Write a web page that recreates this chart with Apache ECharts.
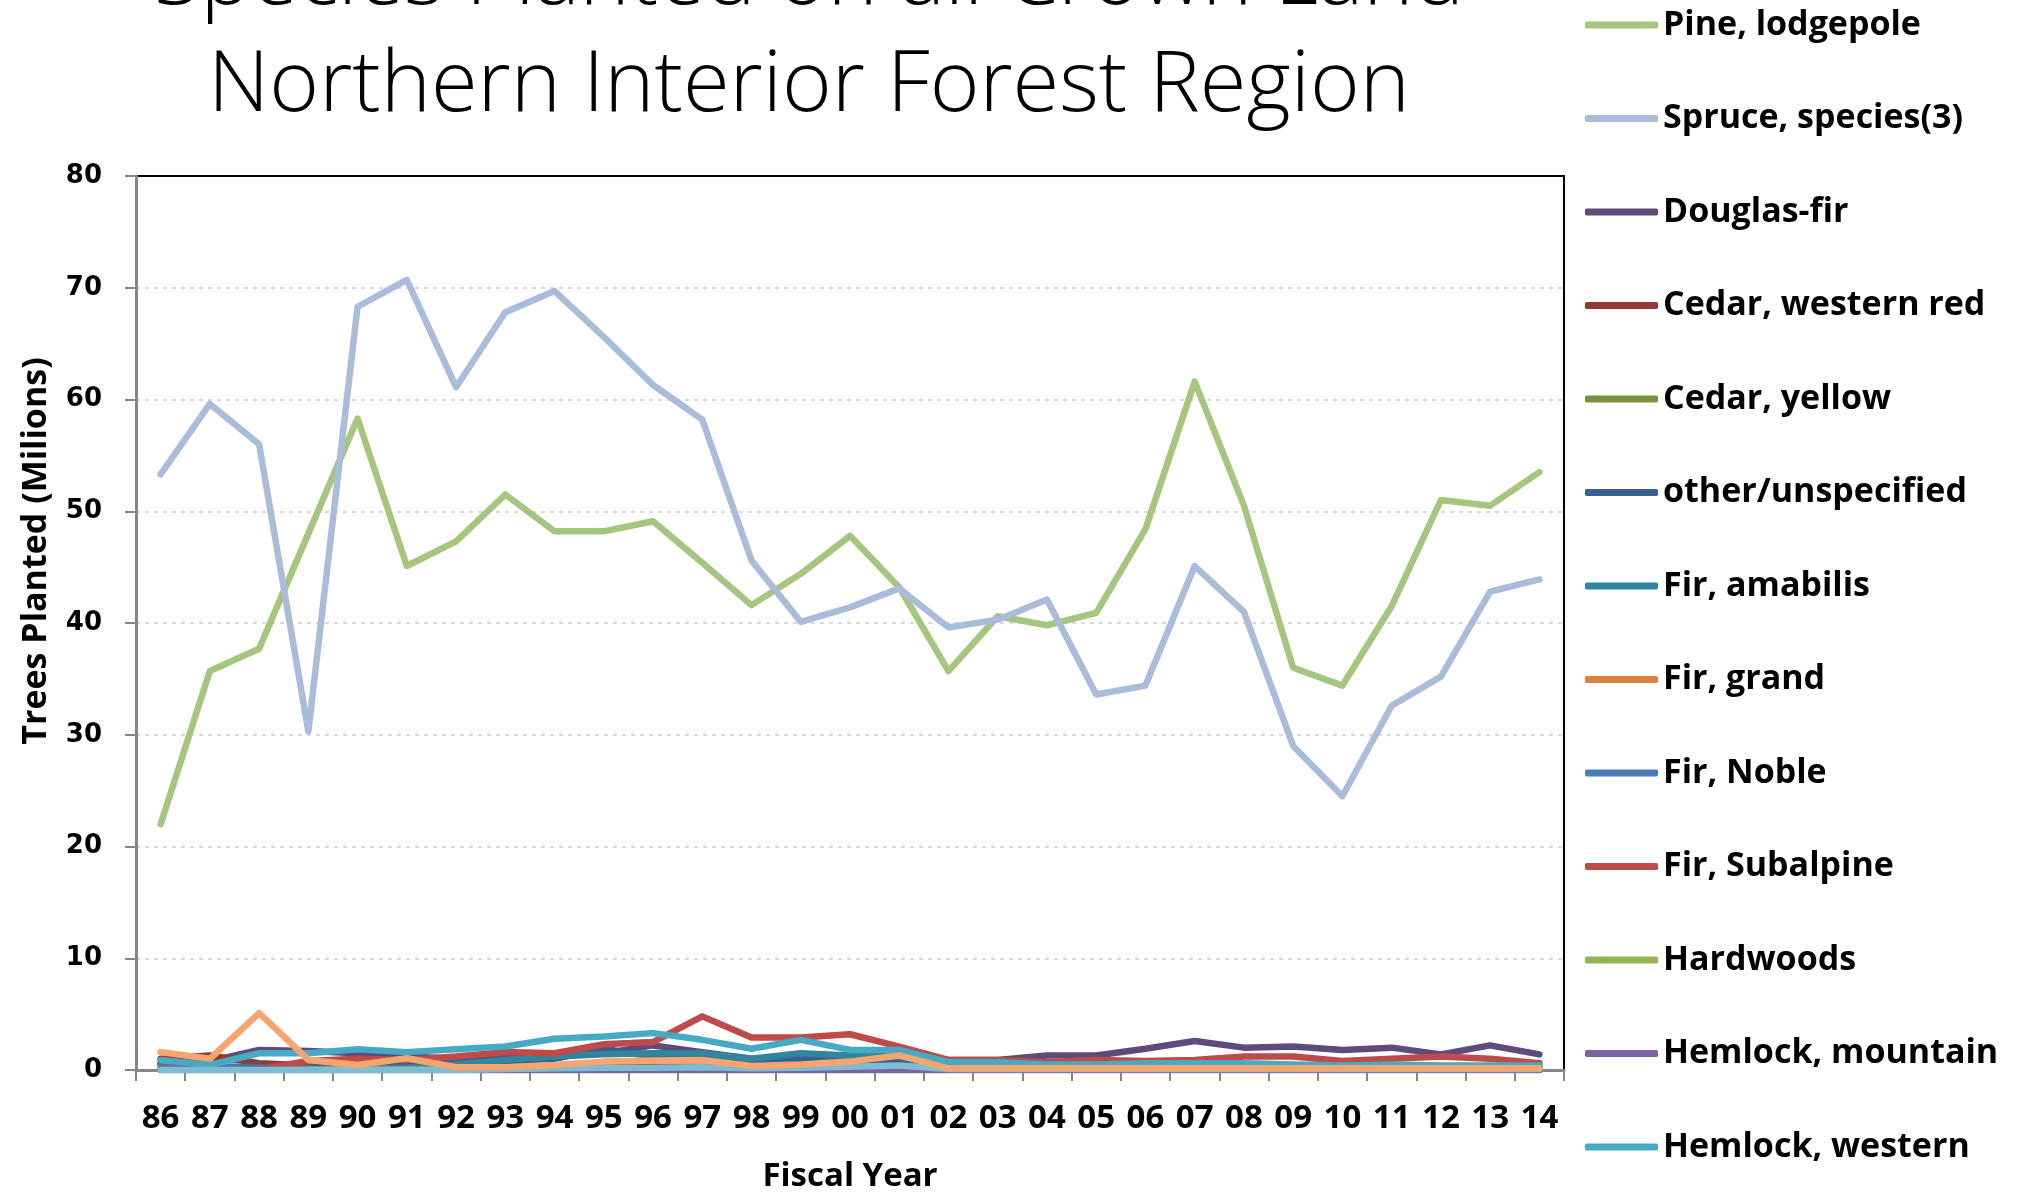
<!DOCTYPE html>
<html>
<head>
<meta charset="utf-8">
<script src="https://cdn.jsdelivr.net/npm/echarts@6/dist/echarts.min.js"></script>
<style>
html,body{margin:0;padding:0;background:#fff;overflow:hidden;}
#chart{width:2019px;height:1192px;}
</style>
</head>
<body>
<div id="chart"></div>
<script>
const titleLines = ['Species Planted on all Crown Land', 'Northern Interior Forest Region'];
const years = ['86','87','88','89','90','91','92','93','94','95','96','97','98','99','00','01','02','03','04','05','06','07','08','09','10','11','12','13','14'];
const yTicks = [0,10,20,30,40,50,60,70,80];

const pineLodgepole = [22.0,35.7,37.7,48.0,58.3,45.1,47.3,51.5,48.2,48.2,49.1,45.4,41.6,44.4,47.8,43.2,35.7,40.6,39.8,40.9,48.4,61.6,50.5,36.0,34.4,41.5,51.0,50.5,53.5];
const spruce = [53.3,59.6,56.0,30.3,68.3,70.7,61.1,67.8,69.7,65.6,61.3,58.2,45.6,40.1,41.4,43.1,39.6,40.3,42.1,33.6,34.4,45.1,41.0,29.0,24.5,32.6,35.2,42.8,43.9];
const douglasFir = [0.6,0.8,1.8,1.7,1.5,1.2,1.0,1.1,1.2,1.5,2.2,1.6,1.0,1.2,1.0,0.9,0.9,0.9,1.3,1.3,1.9,2.6,2.0,2.1,1.8,2.0,1.4,2.2,1.4];
const cedarWesternRed = [1.0,1.3,0.6,0.4,0.3,0.3,0.3,0.3,0.3,0.3,0.3,0.3,0.2,0.2,0.2,0.2,0.1,0.1,0.1,0.1,0.1,0.1,0.1,0.1,0.1,0.1,0.1,0.1,0.1];
const cedarYellow = [0,0,0,0,0,0,0,0,0,0,0,0,0,0,0,0,0,0,0,0,0,0,0,0,0,0,0,0,0];
const otherUnspecified = [0.5,0.3,0.3,0.3,0.4,0.5,0.6,0.8,1.0,1.9,1.2,1.1,0.8,1.0,0.9,0.6,0.3,0.2,0.2,0.2,0.2,0.2,0.2,0.2,0.2,0.2,0.2,0.2,0.2];
const firAmabilis = [0.6,0.3,0.2,0.1,0.1,0.2,0.5,0.9,1.2,1.4,1.5,1.5,1.0,1.5,1.3,1.2,0.5,0.4,0.3,0.3,0.3,0.3,0.3,0.3,0.3,0.3,0.3,0.3,0.3];
const firGrand = [0,0,0,0,0,0,0,0,0,0,0,0,0,0,0,0,0,0,0,0,0,0,0,0,0,0,0,0,0];
const firNoble = [0,0,0,0,0,0,0,0,0,0,0,0,0,0,0,0,0,0,0,0,0,0,0,0,0,0,0,0,0];
const firSubalpine = [0,0,0.1,0.8,1.0,0.9,1.2,1.6,1.5,2.3,2.5,4.8,2.9,2.9,3.2,2.1,0.9,0.9,0.7,0.9,0.8,0.9,1.2,1.2,0.8,1.0,1.2,1.0,0.6];
const hardwoods = [0.05,0.05,0.05,0.05,0.05,0.05,0.05,0.05,0.05,0.05,0.05,0.05,0.05,0.05,0.05,0.05,0.05,0.05,0.05,0.05,0.05,0.05,0.05,0.05,0.05,0.05,0.05,0.05,0.05];
const hemlockMountain = [0.2,0.1,0.1,0,0,0,0,0,0,0,0,0,0,0,0,0,0,0,0,0,0,0,0,0,0,0,0,0,0];
const hemlockWestern = [0.9,0.45,1.5,1.5,1.85,1.6,1.85,2.1,2.8,3.0,3.3,2.7,1.9,2.7,1.8,1.8,0.7,0.7,0.5,0.5,0.6,0.6,0.6,0.5,0.4,0.5,0.4,0.4,0.4];
const unlabeledA = [0,0,0,0,0,0,0,0.1,0.15,0.2,0.2,0.25,0.15,0.2,0.3,0.4,0.1,0.1,0.1,0.1,0.1,0.1,0.1,0.1,0.1,0.1,0.1,0.1,0.1];
const unlabeledB = [1.6,1.0,5.1,0.9,0.45,1.05,0.25,0.25,0.45,0.75,0.85,0.9,0.35,0.5,0.75,1.3,0.15,0.15,0.15,0.15,0.15,0.15,0.15,0.15,0.15,0.15,0.15,0.15,0.15];

const seriesNames = ['Pine, lodgepole','Spruce, species(3)','Douglas-fir','Cedar, western red','Cedar, yellow','other/unspecified','Fir, amabilis','Fir, grand','Fir, Noble','Fir, Subalpine','Hardwoods','Hemlock, mountain','Hemlock, western','(unlabeled 1)','(unlabeled 2)'];
const seriesData = [pineLodgepole,spruce,douglasFir,cedarWesternRed,cedarYellow,otherUnspecified,firAmabilis,firGrand,firNoble,firSubalpine,hardwoods,hemlockMountain,hemlockWestern,unlabeledA,unlabeledB];
const seriesColors = ['#A5C67D','#A9BCDA','#5F4A7C','#953735','#77933C','#376092','#31859C','#D9823D','#4A7EBB','#BE4B48','#93B552','#7E61A0','#46AAC4','#7EBCD3','#F5A56F'];
const legendNames = seriesNames.slice(0, 13);

const chart = echarts.init(document.getElementById('chart'), null, {renderer:'canvas'});
const labelFont = '"Open Sans", Lato, sans-serif';
const series = seriesData.map((d, i) => ({
  name: seriesNames[i],
  type: 'line',
  data: d,
  symbol: 'none',
  lineStyle: {width: 6.5, color: seriesColors[i], join: 'round', cap: 'round'},
  itemStyle: {color: seriesColors[i]},
  z: 2,
  animation: false
}));

chart.setOption({
  animation: false,
  backgroundColor: '#fff',
  grid: {left: 136, right: 455, top: 176, bottom: 122, show: true, borderColor: '#000', borderWidth: 2, backgroundColor: 'transparent', containLabel: false, outerBoundsMode: 'none'},
  legend: {
    data: legendNames,
    orient: 'vertical',
    left: 1580,
    top: 3,
    itemWidth: 73,
    itemHeight: 7,
    itemGap: 59.5,
    icon: 'roundRect',
    textStyle: {fontFamily: labelFont, fontWeight: 'bold', fontSize: 34, color: '#000'}
  },
  xAxis: {
    type: 'category',
    data: years,
    boundaryGap: true,
    axisLine: {show: true, lineStyle: {color: '#868686', width: 3}},
    axisTick: {show: true, inside: false, length: 11, alignWithLabel: false, lineStyle: {color: '#868686', width: 2}},
    axisLabel: {interval: 0, margin: 32, fontFamily: labelFont, fontWeight: 'bold', fontSize: 33, color: '#000'},
    name: 'Fiscal Year',
    nameLocation: 'middle',
    nameGap: 90,
    nameTextStyle: {fontFamily: labelFont, fontWeight: 'bold', fontSize: 33, color: '#000'},
    splitLine: {show: false}
  },
  yAxis: {
    type: 'value',
    min: yTicks[0],
    max: yTicks[yTicks.length - 1],
    interval: 10,
    axisLine: {show: true, lineStyle: {color: '#868686', width: 3}},
    axisTick: {show: true, inside: false, length: 11, lineStyle: {color: '#868686', width: 2}},
    axisLabel: {margin: 34, fontFamily: '"DejaVu Sans", Verdana, sans-serif', fontWeight: 'bold', fontSize: 26, color: '#000'},
    splitLine: {show: true, showMinLine: false, showMaxLine: false, lineStyle: {color: '#D9D9D9', width: 2, type: [4, 5]}}
  },
  graphic: [
    {type: 'text', x: 809, y: -20, style: {text: titleLines[0], font: '300 85px "Open Sans", Lato, sans-serif', fill: '#000', textAlign: 'center', textVerticalAlign: 'middle'}},
    {type: 'text', x: 809, y: 87, style: {text: titleLines[1], font: '300 85px "Open Sans", Lato, sans-serif', fill: '#000', textAlign: 'center', textVerticalAlign: 'middle'}},
    {type: 'text', x: 36, y: 551, rotation: Math.PI / 2, style: {text: 'Trees Planted (Milions)', font: 'bold 34px "Open Sans", Lato, sans-serif', fill: '#000', textAlign: 'center', textVerticalAlign: 'middle'}}
  ],
  series: series
});
</script>
</body>
</html>
